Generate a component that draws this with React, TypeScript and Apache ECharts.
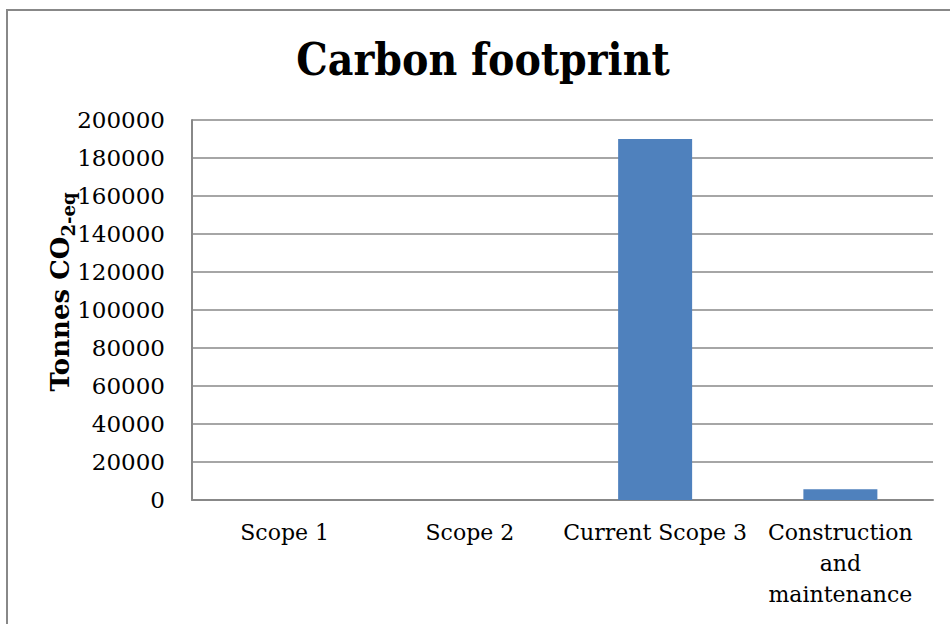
import React, { useEffect, useRef } from "react";
import * as echarts from "echarts";

const categories = ["Scope 1", "Scope 2", "Current Scope 3", "Construction\nand\nmaintenance"];
const values = [0, 0, 190000, 5600];
const yMin = 0;
const yMax = 200000;
const yStep = 20000;
const titleText = "Carbon footprint";

export default function App() {
  const ref = useRef<HTMLDivElement>(null);
  useEffect(() => {
    if (!ref.current) return;
    const chart = echarts.init(ref.current, null, { renderer: "svg" });
    chart.setOption({
      animation: false,
      backgroundColor: "#ffffff",
      grid: { left: 192, right: 17, top: 120, bottom: 124, containLabel: false },
      xAxis: {
        type: "category",
        data: categories,
        axisLine: { show: true, lineStyle: { color: "#888888", width: 2 } },
        axisTick: { show: false },
        axisLabel: {
          interval: 0,
          margin: 17,
          color: "#000000",
          fontFamily: "DejaVu Serif",
          fontSize: 22,
          lineHeight: 31,
          align: "center",
        },
      },
      yAxis: {
        type: "value",
        min: yMin,
        max: yMax,
        interval: yStep,
        axisLine: { show: true, lineStyle: { color: "#888888", width: 2 } },
        axisTick: { show: false },
        splitLine: { show: true, lineStyle: { color: "#888888", width: 1.5 } },
        axisLabel: {
          margin: 27,
          color: "#000000",
          fontFamily: "DejaVu Serif",
          fontSize: 23,
          formatter: (v: number) => String(v),
        },
      },
      series: [
        {
          type: "bar",
          data: values,
          barWidth: 74,
          itemStyle: { color: "#4F81BD" },
        },
      ],
      graphic: [
        {
          type: "rect",
          z: -10,
          shape: { x: 7, y: 10, width: 1000, height: 700 },
          style: { fill: "none", stroke: "#888888", lineWidth: 2 },
        },
        {
          type: "text",
          x: 483,
          y: 59,
          style: {
            text: titleText,
            fontFamily: "DejaVu Serif Condensed, DejaVu Serif",
            fontWeight: "bold",
            fontSize: 44,
            fill: "#000000",
            align: "center",
            verticalAlign: "middle",
          },
        },
        {
          type: "text",
          x: 60,
          y: 292,
          rotation: Math.PI / 2,
          style: {
            text: "{a|Tonnes CO}{b|2-eq}",
            align: "center",
            verticalAlign: "middle",
            rich: {
              a: {
                fontFamily: "DejaVu Serif",
                fontWeight: "bold",
                fontSize: 26,
                lineHeight: 34,
                fill: "#000000",
                color: "#000000",
              },
              b: {
                fontFamily: "DejaVu Serif",
                fontWeight: "bold",
                fontSize: 18,
                lineHeight: 21,
                verticalAlign: "bottom",
                fill: "#000000",
                color: "#000000",
              },
            },
          },
        },
      ],
    });
    return () => chart.dispose();
  }, []);
  return (
    <div
      ref={ref}
      style={{ position: "fixed", left: 0, top: 0, width: 950, height: 624 }}
    />
  );
}
